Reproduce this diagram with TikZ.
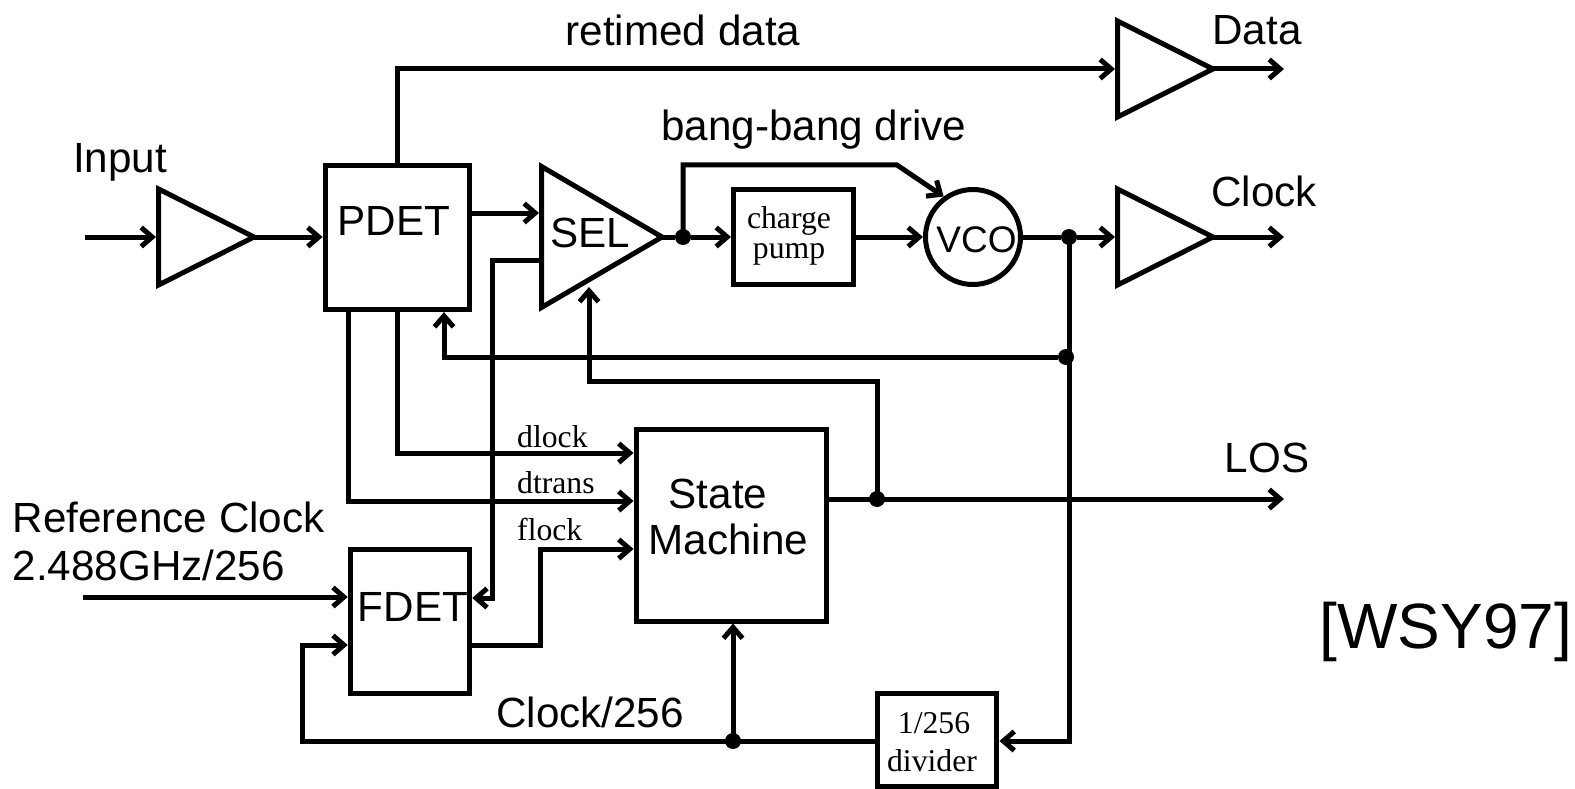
\documentclass[tikz,border=0pt]{standalone}
\usepackage{fontspec}
\setmainfont{Liberation Sans}
\newfontfamily\timesf{Liberation Serif}
\usetikzlibrary{arrows.meta,shapes.geometric}
\tikzset{
  wire/.style={line width=5pt,line join=miter,line cap=butt},
  arr/.style={wire,-{Straight Barb[length=11pt,width=19pt,line width=5pt]}},
  toamp/.style={arr,shorten >=2.5pt},
  blockbox/.style={draw,line width=5pt,rectangle,inner sep=0pt},
  amp/.style={draw,line width=5pt,isosceles triangle,isosceles triangle stretches,shape border rotate=0,inner sep=0pt,outer sep=0pt,anchor=apex},
  jdot/.style={circle,fill=black,inner sep=0pt,minimum size=16pt},
  sans/.style={font=\fontsize{42.2}{47}\selectfont,inner sep=0pt},
  serif/.style={font=\timesf\fontsize{31.7}{36}\selectfont,inner sep=0pt}
}
\begin{document}
\begin{tikzpicture}[x=1pt,y=-1pt]
\useasboundingbox (0,0) rectangle (1575,789);
% blocks
\node[blockbox,minimum width=144.5pt,minimum height=144.5pt] (pdet) at (397.35,237.35) {};
\node[blockbox,minimum width=119.5pt,minimum height=144.5pt] (fdet) at (410,621.3) {};
\node[blockbox,minimum width=190.5pt,minimum height=192pt] (sm) at (731.3,525) {};
\node[blockbox,minimum width=120pt,minimum height=95pt] (cp) at (793.5,237) {};
\node[blockbox,minimum width=119.5pt,minimum height=93pt] (div) at (937.2,739.7) {};
\node[draw,circle,line width=5pt,inner sep=0pt,minimum size=95pt] (vco) at (973,237) {};
\node[amp,minimum width=96pt,minimum height=95.5pt] (inamp) at (254,237) {};
\node[amp,minimum width=96pt,minimum height=95.5pt] (dataamp) at (1213,69) {};
\node[amp,minimum width=96pt,minimum height=95.5pt] (clkamp) at (1213,237) {};
\node[amp,minimum width=141pt,minimum height=120.5pt] (sel) at (662,237) {};
% free ends and bends
\coordinate (inL) at (85,237);
\coordinate (refL) at (83,597);
\coordinate (dataOut) at (1284,69);
\coordinate (clkOut) at (1284,237);
\coordinate (losOut) at (1284,499);
\coordinate (pdy) at (0,213);
\coordinate (sely) at (0,260.7);
\coordinate (selx) at (492,0);
\coordinate (fdy) at (0,598);
\coordinate (fd2y) at (0,645);
\coordinate (fbx) at (302,0);
\coordinate (divy) at (0,741);
\coordinate (fox) at (540,0);
\coordinate (foy) at (0,549);
\coordinate (dlx) at (397,0);
\coordinate (dly) at (0,453);
\coordinate (dtx) at (348,0);
\coordinate (dty) at (0,501);
\coordinate (pfx) at (444,0);
\coordinate (scx) at (589,0);
\coordinate (scy) at (0,381);
\coordinate (selctl) at (589,287);
\coordinate (bangtop) at (683,165);
\coordinate (bangbend) at (897,165);
\coordinate (fo) at (467,645);
% junctions
\node[jdot] (j1) at (683,237) {};
\node[jdot] (j2) at (1069,237) {};
\node[jdot] (j3) at (1066,357) {};
\node[jdot] (j4) at (877,499) {};
\node[jdot] (j5) at (733,741) {};
% connectors
\draw[toamp] (inL) -- (inamp.west |- inL);
\draw[arr] (inamp.apex) -- (pdet.west |- inL);
\draw[toamp] (dlx |- pdet.north) -- (dlx |- dataOut) -- (dataamp.west |- dataOut);
\draw[arr] (dataamp.apex) -- (dataOut);
\draw[toamp] (pdet.east |- pdy) -- (sel.west |- pdy);
\draw[arr] (sel.west |- sely) -- (selx |- sely) -- (selx |- fdy) -- (fdet.east |- fdy);
\draw[wire] (sel.apex) -- (j1);
\draw[arr] (j1) -- (cp.west);
\draw[arr] (cp.east) -- (vco.west);
\draw[arr] (j1.center) -- (bangtop) -- (bangbend) -- (vco.126);
\draw[wire] (vco.east) -- (j2);
\draw[toamp] (j2) -- (clkamp.west |- j2);
\draw[arr] (clkamp.apex) -- (clkOut);
\draw[arr] (j2.center) -- (j2 |- divy) -- (div.east |- divy);
\draw[arr] (j3) -- (pfx |- j3) -- (pfx |- pdet.south);
\draw[arr] (j4.center) -- (j4 |- scy) -- (scx |- scy) -- (selctl);
\draw[arr] (sm.east |- j4) -- (losOut);
\draw[arr] (dlx |- pdet.south) -- (dlx |- dly) -- (sm.west |- dly);
\draw[arr] (dtx |- pdet.south) -- (dtx |- dty) -- (sm.west |- dty);
\draw[arr] (refL) -- (fdet.west |- refL);
\draw[arr] (div.west |- divy) -- (fbx |- divy) -- (fbx |- fd2y) -- (fdet.west |- fd2y);
\draw[arr] (fo) -- (fox |- fo) -- (fox |- foy) -- (sm.west |- foy);
\draw[arr] (j5.center) -- (j5 |- sm.south);
% labels
\node[sans,anchor=base] (tp) at (394,235) {PDET};
\node[sans,anchor=base] (ts) at (590,247) {SEL};
\node[sans,anchor=base] (tf) at (413,621) {FDET};
\node[sans,anchor=base,font=\fontsize{37}{40}\selectfont] (tv) at (976.5,252) {VCO};
\node[sans,anchor=base] (ts1) at (718,508) {State};
\node[sans,anchor=base] (ts2) at (728.5,554) {Machine};
\node[sans,anchor=base] (t1) at (683,46) {retimed data};
\node[sans,anchor=base] (t2) at (814,141) {bang-bang drive};
\node[sans,anchor=base] (t3) at (120,173) {Input};
\node[sans,anchor=base] (t4) at (1257,45) {Data};
\node[sans,anchor=base] (t5) at (1264,206) {Clock};
\node[sans,anchor=base] (t6) at (1267,472) {LOS};
\node[sans,anchor=base west] (t7) at (12.5,532) {Reference Clock};
\node[sans,anchor=base west] (t8) at (12.5,580) {2.488GHz/256};
\node[sans,anchor=base] (t9) at (590,727) {Clock/256};
\node[sans,anchor=base,font=\fontsize{64}{70}\selectfont] (t10) at (1446,648) {[WSY97]};
\node[serif,anchor=base] (c1) at (789,228) {charge};
\node[serif,anchor=base] (c2) at (789,258) {pump};
\node[serif,anchor=base] (d1) at (934,733) {1/256};
\node[serif,anchor=base] (d2) at (932,771) {divider};
\node[serif,anchor=base west] (l1) at (517,447) {dlock};
\node[serif,anchor=base west] (l2) at (517,493) {dtrans};
\node[serif,anchor=base west] (l3) at (517,540) {flock};
\end{tikzpicture}
\end{document}
